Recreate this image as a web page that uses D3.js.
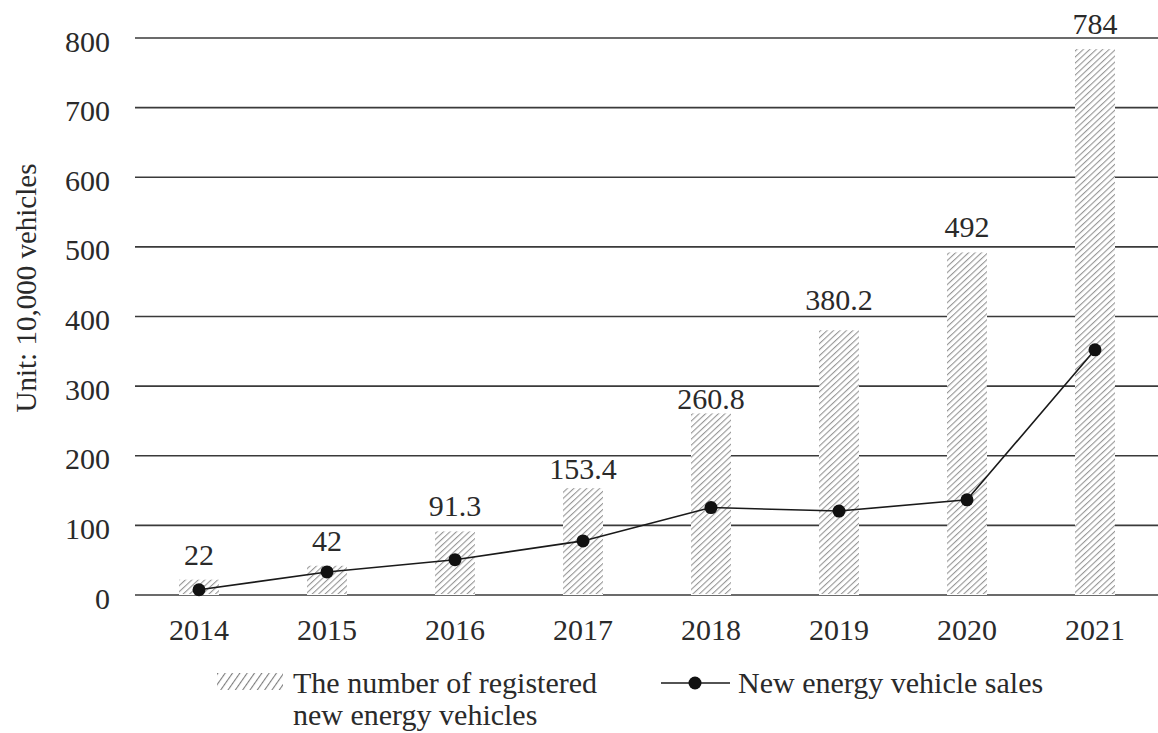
<!DOCTYPE html>
<html>
<head>
<meta charset="utf-8">
<script src="https://cdn.jsdelivr.net/npm/d3@7/dist/d3.min.js"></script>
<style>
  html, body { margin: 0; padding: 0; background: #fff; }
  svg { display: block; font-family: "Liberation Serif", "Times New Roman", serif; }
</style>
</head>
<body>
<svg id="chart" width="1158" height="733"></svg>
<script>
// ---- data ----
const years = ["2014", "2015", "2016", "2017", "2018", "2019", "2020", "2021"];
const registered = [22, 42, 91.3, 153.4, 260.8, 380.2, 492, 784];
const sales = [7.5, 33.1, 50.7, 77.7, 125.6, 120.6, 136.7, 352.1];
const yTicks = [0, 100, 200, 300, 400, 500, 600, 700, 800];
const yTitle = "Unit: 10,000 vehicles";
const legendBarLines = ["The number of registered", "new energy vehicles"];
const legendLineLabel = "New energy vehicle sales";

// ---- layout ----
const svg = d3.select("#chart");
const plotLeft = 135, plotRight = 1159, plotTop = 38, plotBottom = 595;
const fontSize = 30;
const textColor = "#2a2a2a";

const x = d3.scaleBand().domain(years).range([plotLeft, plotRight])
  .paddingInner(0.6875).paddingOuter(0.34375);
const y = d3.scaleLinear().domain([0, 800]).range([plotBottom, plotTop]);

// patterns
const defs = svg.append("defs");
defs.append("pattern")
  .attr("id", "hatch").attr("patternUnits", "userSpaceOnUse")
  .attr("width", 4.4).attr("height", 10)
  .attr("patternTransform", "rotate(47)")
  .append("line").attr("x1", 0.6).attr("y1", 0).attr("x2", 0.6).attr("y2", 10)
  .attr("stroke", "#858585").attr("stroke-width", 0.95);
defs.append("pattern")
  .attr("id", "hatchLegend").attr("patternUnits", "userSpaceOnUse")
  .attr("width", 6).attr("height", 10)
  .attr("patternTransform", "rotate(35)")
  .append("line").attr("x1", 0.6).attr("y1", 0).attr("x2", 0.6).attr("y2", 10)
  .attr("stroke", "#707070").attr("stroke-width", 1);

// gridlines
svg.append("g").selectAll("line").data(yTicks).join("line")
  .attr("x1", plotLeft).attr("x2", 1158)
  .attr("y1", d => y(d)).attr("y2", d => y(d))
  .attr("stroke", "#3a3a3a").attr("stroke-width", 1.6);

// y tick labels
svg.append("g").selectAll("text").data(yTicks).join("text")
  .attr("x", 110).attr("y", d => y(d)).attr("dy", "0.45em")
  .attr("text-anchor", "end").attr("font-size", fontSize).attr("fill", textColor)
  .text(d => d);

// x tick labels
svg.append("g").selectAll("text").data(years).join("text")
  .attr("x", d => x(d) + x.bandwidth() / 2).attr("y", 640)
  .attr("text-anchor", "middle").attr("font-size", fontSize).attr("fill", textColor)
  .text(d => d);

// y title
svg.append("text")
  .attr("transform", "translate(36," + 288 + ") rotate(-90)")
  .attr("text-anchor", "middle").attr("font-size", 29).attr("fill", textColor)
  .text(yTitle);

// bars (white background hides gridlines, then hatch)
const bars = svg.append("g");
bars.selectAll("rect.bg").data(registered).join("rect").attr("class", "bg")
  .attr("x", (d, i) => x(years[i])).attr("width", x.bandwidth())
  .attr("y", d => y(d)).attr("height", d => y(0) - y(d))
  .attr("fill", "#fff");
bars.selectAll("rect.h").data(registered).join("rect").attr("class", "h")
  .attr("x", (d, i) => x(years[i])).attr("width", x.bandwidth())
  .attr("y", d => y(d)).attr("height", d => y(0) - y(d) - 1)
  .attr("fill", "url(#hatch)");

// value labels, nudged to avoid gridlines
function labelBaseline(v) {
  const top = y(v);
  let base = top - 15;
  const textTop = base - 21;
  for (const t of yTicks) {
    const g = y(t);
    if (g >= textTop - 2 && g <= base + 2) {
      if (g - textTop < base - g) base = g + 23; else base = g - 7;
      break;
    }
  }
  return base;
}
svg.append("g").selectAll("text").data(registered).join("text")
  .attr("x", (d, i) => x(years[i]) + x.bandwidth() / 2)
  .attr("y", d => labelBaseline(d))
  .attr("text-anchor", "middle").attr("font-size", fontSize).attr("fill", textColor)
  .text(d => d);

// sales line
const line = d3.line().x((d, i) => x(years[i]) + x.bandwidth() / 2).y(d => y(d));
svg.append("path").datum(sales).attr("d", line)
  .attr("fill", "none").attr("stroke", "#1a1a1a").attr("stroke-width", 1.6);
svg.append("g").selectAll("circle").data(sales).join("circle")
  .attr("cx", (d, i) => x(years[i]) + x.bandwidth() / 2).attr("cy", d => y(d))
  .attr("r", 6.5).attr("fill", "#111");

// legend
const lg = svg.append("g");
lg.append("rect").attr("x", 217).attr("y", 673).attr("width", 66).attr("height", 17)
  .attr("fill", "url(#hatchLegend)");
lg.selectAll("text.lb").data(legendBarLines).join("text").attr("class", "lb")
  .attr("x", 293).attr("y", (d, i) => 693 + i * 32)
  .attr("font-size", 30).attr("fill", textColor)
  .text(d => d);
lg.append("line").attr("x1", 661).attr("x2", 730).attr("y1", 683).attr("y2", 683)
  .attr("stroke", "#1a1a1a").attr("stroke-width", 1.6);
lg.append("circle").attr("cx", 695).attr("cy", 683).attr("r", 6.5).attr("fill", "#111");
lg.append("text").attr("x", 738).attr("y", 693)
  .attr("font-size", 30).attr("fill", textColor).text(legendLineLabel);
</script>
</body>
</html>
